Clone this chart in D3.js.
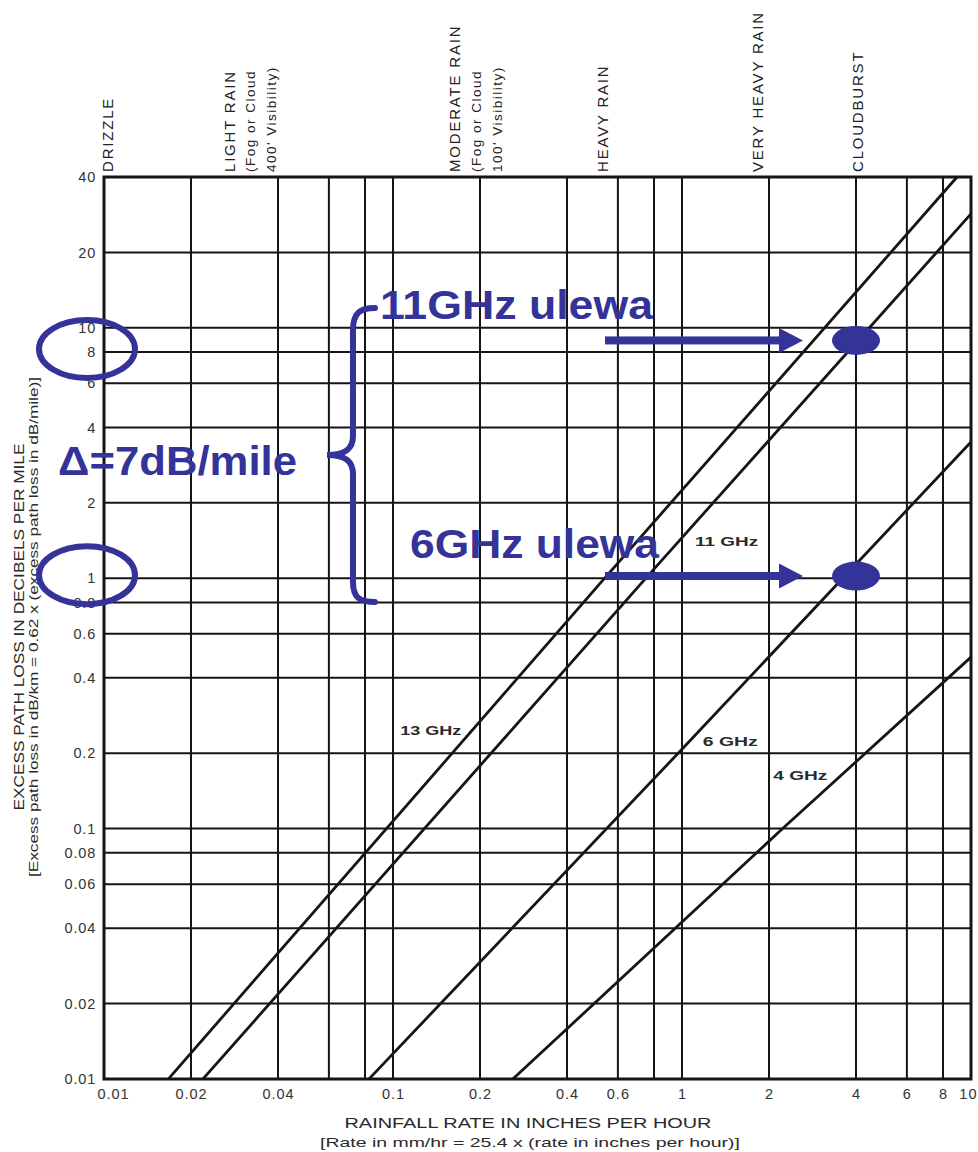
<!DOCTYPE html>
<html>
<head>
<meta charset="utf-8">
<script src="https://cdn.jsdelivr.net/npm/d3@7"></script>
<style>
  html, body { margin: 0; padding: 0; background: #fff; }
  svg { display: block; font-family: "Liberation Sans", Arial, sans-serif; }
</style>
</head>
<body>
<svg id="chart" width="978" height="1152"></svg>
<script>
// Rainfall rate (in/hr) vs excess path loss (dB/mile), log-log chart.

const xTickValues = [0.01, 0.02, 0.04, 0.1, 0.2, 0.4, 0.6, 1, 2, 4, 6, 8, 10];
const xGridValues = [0.02, 0.04, 0.06, 0.08, 0.1, 0.2, 0.4, 0.6, 0.8, 1, 2, 4, 6, 8];
const yTickValues = [0.01, 0.02, 0.04, 0.06, 0.08, 0.1, 0.2, 0.4, 0.6, 0.8, 1, 2, 4, 6, 8, 10, 20, 40];
const yGridValues = [0.02, 0.04, 0.06, 0.08, 0.1, 0.2, 0.4, 0.6, 0.8, 1, 2, 4, 6, 8, 10, 20];

// [rain rate in/hr, loss dB/mile]
const loss13GHz = [[0.0167, 0.01], [0.54, 1], [8.95, 40]];
const loss11GHz = [[0.022, 0.01], [0.75, 1], [10, 28.5]];
const loss6GHz  = [[0.0826, 0.01], [0.97, 0.2], [10, 3.5]];
const loss4GHz  = [[0.26, 0.01], [2.23, 0.1], [10, 0.484]];

const seriesNames = ["13 GHz", "11 GHz", "6 GHz", "4 GHz"];

const rainCategories = [
  { lines: ["DRIZZLE"], rate: 0.0103 },
  { lines: ["LIGHT RAIN", "(Fog or Cloud", "400' Visibility)"], rate: 0.038 },
  { lines: ["MODERATE RAIN", "(Fog or Cloud", "100' Visibility)"], rate: 0.229 },
  { lines: ["HEAVY RAIN"], rate: 0.53 },
  { lines: ["VERY HEAVY RAIN"], rate: 1.82 },
  { lines: ["CLOUDBURST"], rate: 4.05 }
];

// Cloudburst readings highlighted on the 11 GHz and 6 GHz curves
const cloudburstRate = 4;
const cloudburstLoss = [8.9, 1.02];
const cloudburstText = ["11GHz ulewa", "6GHz ulewa"];
const circledLoss = [8, 1];
const deltaText = "\u0394=7dB/mile";

const svg = d3.select("#chart");
const ink = "#151515";
const blue = "#333399";

const x = d3.scaleLog().domain([0.01, 10]).range([104, 971]);
const y = d3.scaleLog().domain([0.01, 40]).range([1079, 177]);

// grid
const grid = svg.append("g").attr("stroke", ink).attr("stroke-width", 2);
grid.selectAll("line.v").data(xGridValues).join("line")
  .attr("x1", d => x(d)).attr("x2", d => x(d))
  .attr("y1", y(40)).attr("y2", y(0.01));
grid.selectAll("line.h").data(yGridValues).join("line")
  .attr("y1", d => y(d)).attr("y2", d => y(d))
  .attr("x1", x(0.01)).attr("x2", x(10));

svg.append("rect")
  .attr("x", x(0.01)).attr("y", y(40))
  .attr("width", x(10) - x(0.01)).attr("height", y(0.01) - y(40))
  .attr("fill", "none").attr("stroke", ink).attr("stroke-width", 3);

// axes (labels only; the frame serves as the axis line)
const xAxis = d3.axisBottom(x).tickValues(xTickValues).tickSize(0).tickPadding(10)
  .tickFormat(d3.format("~g"));
const gx = svg.append("g").attr("transform", `translate(0,${y(0.01)})`).call(xAxis);
gx.select(".domain").remove();
gx.selectAll("text").attr("font-size", 14.5).attr("fill", "#333")
  .attr("letter-spacing", 1).attr("font-family", "Liberation Sans, Arial, sans-serif");
gx.selectAll("text").filter(d => d === 0.01).attr("dx", 9);
gx.selectAll("text").filter(d => d === 10).attr("text-anchor", "end").attr("dx", 977 - x(10));

const yAxis = d3.axisLeft(y).tickValues(yTickValues).tickSize(0).tickPadding(8)
  .tickFormat(d3.format("~g"));
const gy = svg.append("g").attr("transform", `translate(${x(0.01)},0)`).call(yAxis);
gy.select(".domain").remove();
gy.selectAll("text").attr("font-size", 14.5).attr("fill", "#333")
  .attr("letter-spacing", 0.8).attr("font-family", "Liberation Sans, Arial, sans-serif");

// axis titles
svg.append("text").attr("x", 528).attr("y", 1128).attr("text-anchor", "middle")
  .attr("font-size", 14.5).attr("fill", "#2a2a2a")
  .attr("textLength", 367).attr("lengthAdjust", "spacingAndGlyphs")
  .text("RAINFALL RATE IN INCHES PER HOUR");
svg.append("text").attr("x", 530).attr("y", 1147).attr("text-anchor", "middle")
  .attr("font-size", 13.5).attr("fill", "#2a2a2a")
  .attr("textLength", 420).attr("lengthAdjust", "spacingAndGlyphs")
  .text("[Rate in mm/hr = 25.4 x (rate in inches per hour)]");

svg.append("text")
  .attr("transform", "translate(24,627) rotate(-90)").attr("text-anchor", "middle")
  .attr("font-size", 14.5).attr("fill", "#2a2a2a")
  .attr("textLength", 367).attr("lengthAdjust", "spacingAndGlyphs")
  .text("EXCESS PATH LOSS IN DECIBELS PER MILE");
svg.append("text")
  .attr("transform", "translate(38,627) rotate(-90)").attr("text-anchor", "middle")
  .attr("font-size", 13).attr("fill", "#2a2a2a")
  .attr("textLength", 500).attr("lengthAdjust", "spacingAndGlyphs")
  .text("[Excess path loss in dB/km = 0.62 x (excess path loss in dB/mile)]");

// rain category labels along the top (first line caps, further lines smaller)
const cat = svg.append("g").attr("fill", "#222");
rainCategories.forEach(c => {
  const n = c.lines.length;
  c.lines.forEach((t, i) => {
    const cx = x(c.rate) - (n - 1 - i) * 21;
    cat.append("text")
      .attr("transform", `translate(${cx},172) rotate(-90)`)
      .attr("dy", "0.36em")
      .attr("font-size", i === 0 ? 15 : 13.5)
      .attr("letter-spacing", i === 0 ? 1.8 : 1.5)
      .text(t);
  });
});

// attenuation curves
const line = d3.line().x(d => x(d[0])).y(d => y(d[1])).curve(d3.curveMonotoneX);
const curves = [loss13GHz, loss11GHz, loss6GHz, loss4GHz];
svg.append("g").selectAll("path").data(curves).join("path")
  .attr("d", line).attr("fill", "none").attr("stroke", ink).attr("stroke-width", 2.8);

// curve labels
const curveLabelAt = [[0.106, 0.237], [1.11, 1.35], [1.18, 0.214], [2.07, 0.157]];
const curveLabelLen = [61, 63, 55, 54];
svg.append("g").selectAll("text").data(seriesNames).join("text")
  .attr("x", (d, i) => x(curveLabelAt[i][0]))
  .attr("y", (d, i) => y(curveLabelAt[i][1]))
  .attr("font-size", 12.5).attr("font-weight", "bold").attr("fill", "#2a2a2a")
  .attr("textLength", (d, i) => curveLabelLen[i]).attr("lengthAdjust", "spacingAndGlyphs")
  .text(d => d);

// annotations
const ann = svg.append("g");
ann.selectAll("ellipse.ring").data(circledLoss).join("ellipse")
  .attr("cx", 87).attr("cy", d => y(d) - 3).attr("rx", 48).attr("ry", 29)
  .attr("fill", "none").attr("stroke", blue).attr("stroke-width", 6);

ann.selectAll("ellipse.dot").data(cloudburstLoss).join("ellipse")
  .attr("cx", x(cloudburstRate)).attr("cy", d => y(d)).attr("rx", 24).attr("ry", 14.5)
  .attr("fill", blue);

cloudburstLoss.forEach(v => {
  const ty = y(v);
  const tip = x(cloudburstRate) - 53;
  ann.append("rect").attr("x", 605).attr("y", ty - 4).attr("width", tip - 23 - 605).attr("height", 8)
    .attr("fill", blue);
  ann.append("path")
    .attr("d", `M${tip - 24},${ty - 12.5} L${tip},${ty} L${tip - 24},${ty + 12.5} Z`)
    .attr("fill", blue);
});

const blueText = ann.append("g").attr("fill", blue).attr("font-weight", "bold").attr("font-size", 40);
blueText.append("text").attr("x", 380).attr("y", 319).attr("textLength", 273)
  .attr("lengthAdjust", "spacingAndGlyphs").text(cloudburstText[0]);
blueText.append("text").attr("x", 410).attr("y", 558).attr("textLength", 249)
  .attr("lengthAdjust", "spacingAndGlyphs").text(cloudburstText[1]);
blueText.append("text").attr("x", 58).attr("y", 475).attr("textLength", 239)
  .attr("lengthAdjust", "spacingAndGlyphs").text(deltaText);

// brace spanning the two readings
ann.append("path")
  .attr("d", "M375,308 C360,308 353,313 353,330 L353,436 C353,449 345,455 327,455 C345,455 353,461 353,474 L353,582 C353,598 360,602 375,602")
  .attr("fill", "none").attr("stroke", blue).attr("stroke-width", 6).attr("stroke-linecap", "round");
</script>
</body>
</html>
